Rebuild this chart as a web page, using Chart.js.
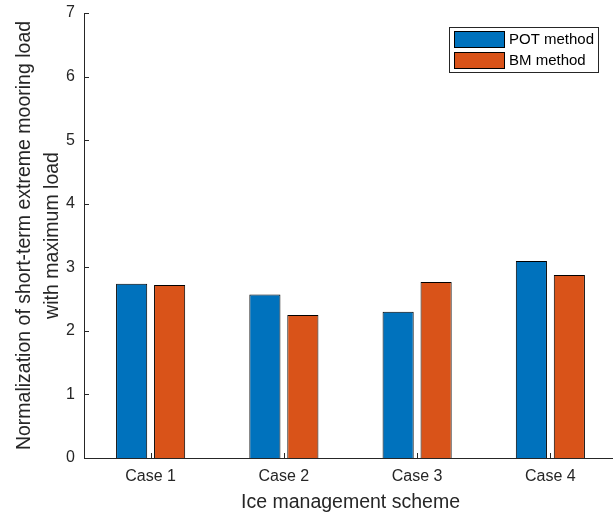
<!DOCTYPE html>
<html>
<head>
<meta charset="utf-8">
<script src="https://cdn.jsdelivr.net/npm/chart.js@4/dist/chart.umd.min.js"></script>
<style>
  html, body { margin: 0; padding: 0; background: #fff; overflow: hidden; }
  canvas { display: block; }
</style>
</head>
<body>
<canvas id="c" width="617" height="513"></canvas>
<script>
// Ice management schemes and the two extreme-value estimates
const cases = ['Case 1', 'Case 2', 'Case 3', 'Case 4'];
const potMethod = [2.74, 2.57, 2.30, 3.10];
const bmMethod = [2.72, 2.25, 2.77, 2.88];
const yTicks = [0, 1, 2, 3, 4, 5, 6, 7];

const INK = '#262626';
const FONT = "'Liberation Sans', Arial, Helvetica, sans-serif";

// Inward tick marks on both axes plus an in-plot legend box
const axesDecor = {
  id: 'axesDecor',
  afterDraw(chart) {
    const { ctx, chartArea, scales } = chart;
    ctx.save();
    ctx.strokeStyle = INK;
    ctx.lineWidth = 1;
    ctx.beginPath();
    yTicks.forEach(v => {
      const y = Math.round(scales.y.getPixelForValue(v)) + 0.5;
      ctx.moveTo(chartArea.left, y);
      ctx.lineTo(chartArea.left + 5, y);
    });
    cases.forEach((c, i) => {
      const x = Math.round(scales.x.getPixelForValue(i)) + 0.5;
      ctx.moveTo(x, chartArea.bottom);
      ctx.lineTo(x, chartArea.bottom - 5);
    });
    ctx.stroke();

    // legend
    const bx = 449.5, by = 27.5, bw = 149, bh = 45;
    ctx.fillStyle = '#fff';
    ctx.fillRect(bx, by, bw, bh);
    ctx.strokeStyle = INK;
    ctx.strokeRect(bx, by, bw, bh);
    ctx.font = '15px ' + FONT;
    ctx.textBaseline = 'middle';
    ctx.textAlign = 'left';
    chart.data.datasets.forEach((ds, i) => {
      const sy = 31.5 + i * 21;
      ctx.fillStyle = ds.backgroundColor;
      ctx.fillRect(454.5, sy, 50, 16);
      ctx.strokeStyle = '#000';
      ctx.strokeRect(454.5, sy, 50, 16);
      ctx.fillStyle = '#000';
      ctx.fillText(ds.label, 509, sy + 8.5);
    });
    ctx.restore();
  }
};

new Chart(document.getElementById('c'), {
  type: 'bar',
  data: {
    labels: cases,
    datasets: [
      { label: 'POT method', data: potMethod, backgroundColor: '#0072BD', borderColor: '#000', borderWidth: 1 },
      { label: 'BM method', data: bmMethod, backgroundColor: '#D95319', borderColor: '#000', borderWidth: 1 }
    ]
  },
  options: {
    responsive: false,
    animation: false,
    devicePixelRatio: 1,
    categoryPercentage: 0.57,
    barPercentage: 0.82,
    layout: { padding: { top: 13, left: 0, right: 0, bottom: 0 } },
    plugins: { legend: { display: false }, tooltip: { enabled: false } },
    scales: {
      x: {
        grid: { display: false, drawTicks: false },
        border: { display: true, color: INK, width: 1 },
        ticks: { color: INK, font: { family: FONT, size: 16 }, padding: 9 },
        title: {
          display: true, text: 'Ice management scheme', color: INK,
          font: { family: FONT, size: 19.5, lineHeight: 1 },
          padding: { top: 0, bottom: 1 }
        },
        afterFit(scale) { scale.height = 55; scale.paddingLeft = 0; scale.paddingRight = 0; }
      },
      y: {
        min: 0, max: 7,
        afterBuildTicks(scale) { scale.ticks = yTicks.map(v => ({ value: v })); },
        grid: { display: false, drawTicks: false },
        border: { display: true, color: INK, width: 1 },
        ticks: { color: INK, font: { family: FONT, size: 16 }, padding: 9 },
        title: {
          display: true,
          text: ['Normalization of short-term extreme mooring load', 'with maximum load'],
          color: INK,
          font: { family: FONT, size: 19.5, lineHeight: 1.45 },
          padding: { top: 10, bottom: 0 }
        },
        afterFit(scale) { scale.width = 84; scale.paddingTop = 0; scale.paddingBottom = 0; }
      }
    }
  },
  plugins: [axesDecor]
});
</script>
</body>
</html>
